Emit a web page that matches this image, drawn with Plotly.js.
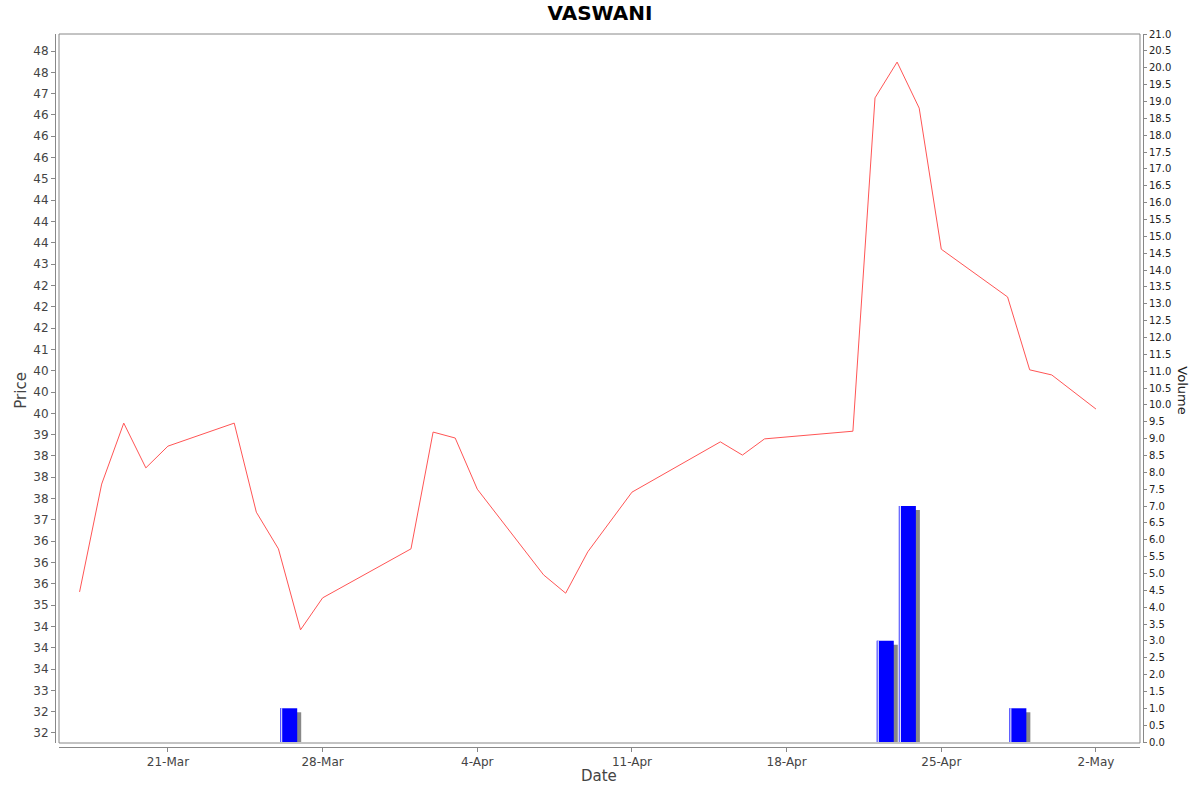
<!DOCTYPE html>
<html>
<head>
<meta charset="utf-8">
<script src="https://cdn.plot.ly/plotly-3.0.1.min.js"></script>
<style>
body { margin: 0; background: #fff; }
#chart { width: 1200px; height: 792px; }
</style>
</head>
<body>
<div id="chart"></div>
<script>
// Daily closing prices.
var price_dates = ['2025-03-17','2025-03-18','2025-03-19','2025-03-20','2025-03-21',
'2025-03-24','2025-03-25','2025-03-26','2025-03-27','2025-03-28',
'2025-04-01','2025-04-02','2025-04-03','2025-04-04',
'2025-04-07','2025-04-08','2025-04-09','2025-04-11',
'2025-04-15','2025-04-16','2025-04-17',
'2025-04-21','2025-04-22','2025-04-23','2025-04-24','2025-04-25',
'2025-04-28','2025-04-29','2025-04-30','2025-05-02'];
var price_values = [35.31, 37.84, 39.27, 38.22, 38.73,
39.27, 37.18, 36.32, 34.42, 35.17,
36.32, 39.06, 38.92, 37.72,
35.71, 35.28, 36.25, 37.65,
38.83, 38.52, 38.90,
39.08, 46.90, 47.74, 46.66, 43.35,
42.23, 40.52, 40.40, 39.60];

// Volume bars.
var volume_dates = ['2025-03-26','2025-04-22','2025-04-23','2025-04-28'];
var volume_values = [1.0, 3.0, 7.0, 1.0];

// Price tick labels (values every 0.5, shown rounded like the original).
var price_ticks = [];
var price_labels = [];
for (var v = 32; v <= 48; v += 0.5) {
price_ticks.push(v);
var r = Math.round(v);
if (v % 1 === 0.5 && r % 2 === 1) { r = r - 1; }
price_labels.push(String(r));
}

var DAY = 86400000;
var PX_DAY = 22.095;   // pixels per day on the x axis
var PX_VOL = 33.714;   // pixels per volume unit
var bar_width = 0.77 * DAY;
var bar_offset = 0.08 * DAY;

// Grey shadow behind each bar, shifted right and down a few pixels.
var shadow = {
x: volume_dates, y: volume_values.map(function(d){ return d - 4 / PX_VOL; }),
type: 'bar', yaxis: 'y', xaxis: 'x',
width: bar_width, offset: bar_offset + 4 * DAY / PX_DAY,
marker: {color: '#888888', line: {width: 0}},
hoverinfo: 'skip', showlegend: false
};
var bars = {
x: volume_dates, y: volume_values,
type: 'bar', yaxis: 'y', xaxis: 'x',
width: bar_width, offset: bar_offset,
marker: {color: '#0000ff', line: {width: 0}},
name: 'Volume', showlegend: false
};
// Thin light stripes on the left of each bar.
var edge = {
x: volume_dates, y: volume_values,
type: 'bar', yaxis: 'y', xaxis: 'x',
width: 1 * DAY / PX_DAY, offset: bar_offset,
marker: {color: '#6666ff', line: {width: 0}},
hoverinfo: 'skip', showlegend: false
};
var highlight = {
x: volume_dates, y: volume_values,
type: 'bar', yaxis: 'y', xaxis: 'x',
width: 1 * DAY / PX_DAY, offset: bar_offset + 1 * DAY / PX_DAY,
marker: {color: '#ffffff', line: {width: 0}},
hoverinfo: 'skip', showlegend: false
};
var line = {
x: price_dates, y: price_values,
type: 'scatter', mode: 'lines', yaxis: 'y2', xaxis: 'x',
line: {color: 'rgb(255,85,85)', width: 1},
name: 'Price', showlegend: false
};

var layout = {
width: 1200, height: 792,
margin: {l: 55, r: 57, t: 34, b: 45, pad: 0},
paper_bgcolor: '#ffffff',
plot_bgcolor: '#ffffff',
barmode: 'overlay',
showlegend: false,
title: {
text: '<b>VASWANI</b>',
font: {family: 'DejaVu Sans', size: 20, color: '#000000'},
x: 0.5, xanchor: 'center', y: 0.984, yanchor: 'middle'
},
xaxis: {
type: 'date',
domain: [0.00368, 0.99724],
anchor: 'free', position: 0,
range: ['2025-03-16 01:40', '2025-05-03 23:50'],
tick0: '2025-03-21', dtick: 7 * DAY,
tickformat: '%-d-%b',
ticks: 'outside', ticklen: 4, tickcolor: '#888888',
tickfont: {family: 'DejaVu Sans', size: 12, color: '#444444'},
showgrid: false, zeroline: false,
showline: true, linecolor: '#888888', linewidth: 1
},
yaxis: {
domain: [0.0056, 1],
anchor: 'free', position: 1, side: 'right',
range: [-0.03, 21.0],
tick0: 0, dtick: 0.5, tickformat: '.1f',
ticks: 'outside', ticklen: 3, tickcolor: '#888888',
tickfont: {family: 'DejaVu Sans', size: 10, color: '#222222'},
showgrid: false, zeroline: false,
showline: true, linecolor: '#888888', linewidth: 1
},
yaxis2: {
domain: [0.0056, 1],
overlaying: 'y', anchor: 'free', position: 0, side: 'left',
range: [31.765, 48.399],
tickvals: price_ticks, ticktext: price_labels,
ticks: 'outside', ticklen: 4, tickcolor: '#888888',
tickfont: {family: 'DejaVu Sans', size: 12, color: '#444444'},
showgrid: false, zeroline: false,
showline: true, linecolor: '#888888', linewidth: 1
},
shapes: [{
type: 'rect', xref: 'paper', yref: 'paper',
x0: 0.00368, x1: 0.99724, y0: 0.0056, y1: 1,
line: {color: '#888888', width: 1}
}],
annotations: [
{text: 'Price', xref: 'paper', yref: 'paper', x: -0.032, y: 0.5,
xanchor: 'center', yanchor: 'middle',
textangle: -90, showarrow: false,
font: {family: 'DejaVu Sans', size: 15, color: '#444444'}},
{text: 'Date', xref: 'paper', yref: 'paper', x: 0.5, y: -0.041,
xanchor: 'center', yanchor: 'middle', showarrow: false,
font: {family: 'DejaVu Sans', size: 15, color: '#444444'}},
{text: 'Volume', xref: 'paper', yref: 'paper', x: 1.036, y: 0.5,
xanchor: 'center', yanchor: 'middle',
textangle: 90, showarrow: false,
font: {family: 'DejaVu Sans', size: 13, color: '#222222'}}
]
};

Plotly.newPlot('chart', [shadow, bars, edge, highlight, line], layout, {displayModeBar: false, staticPlot: true});
</script>
</body>
</html>
